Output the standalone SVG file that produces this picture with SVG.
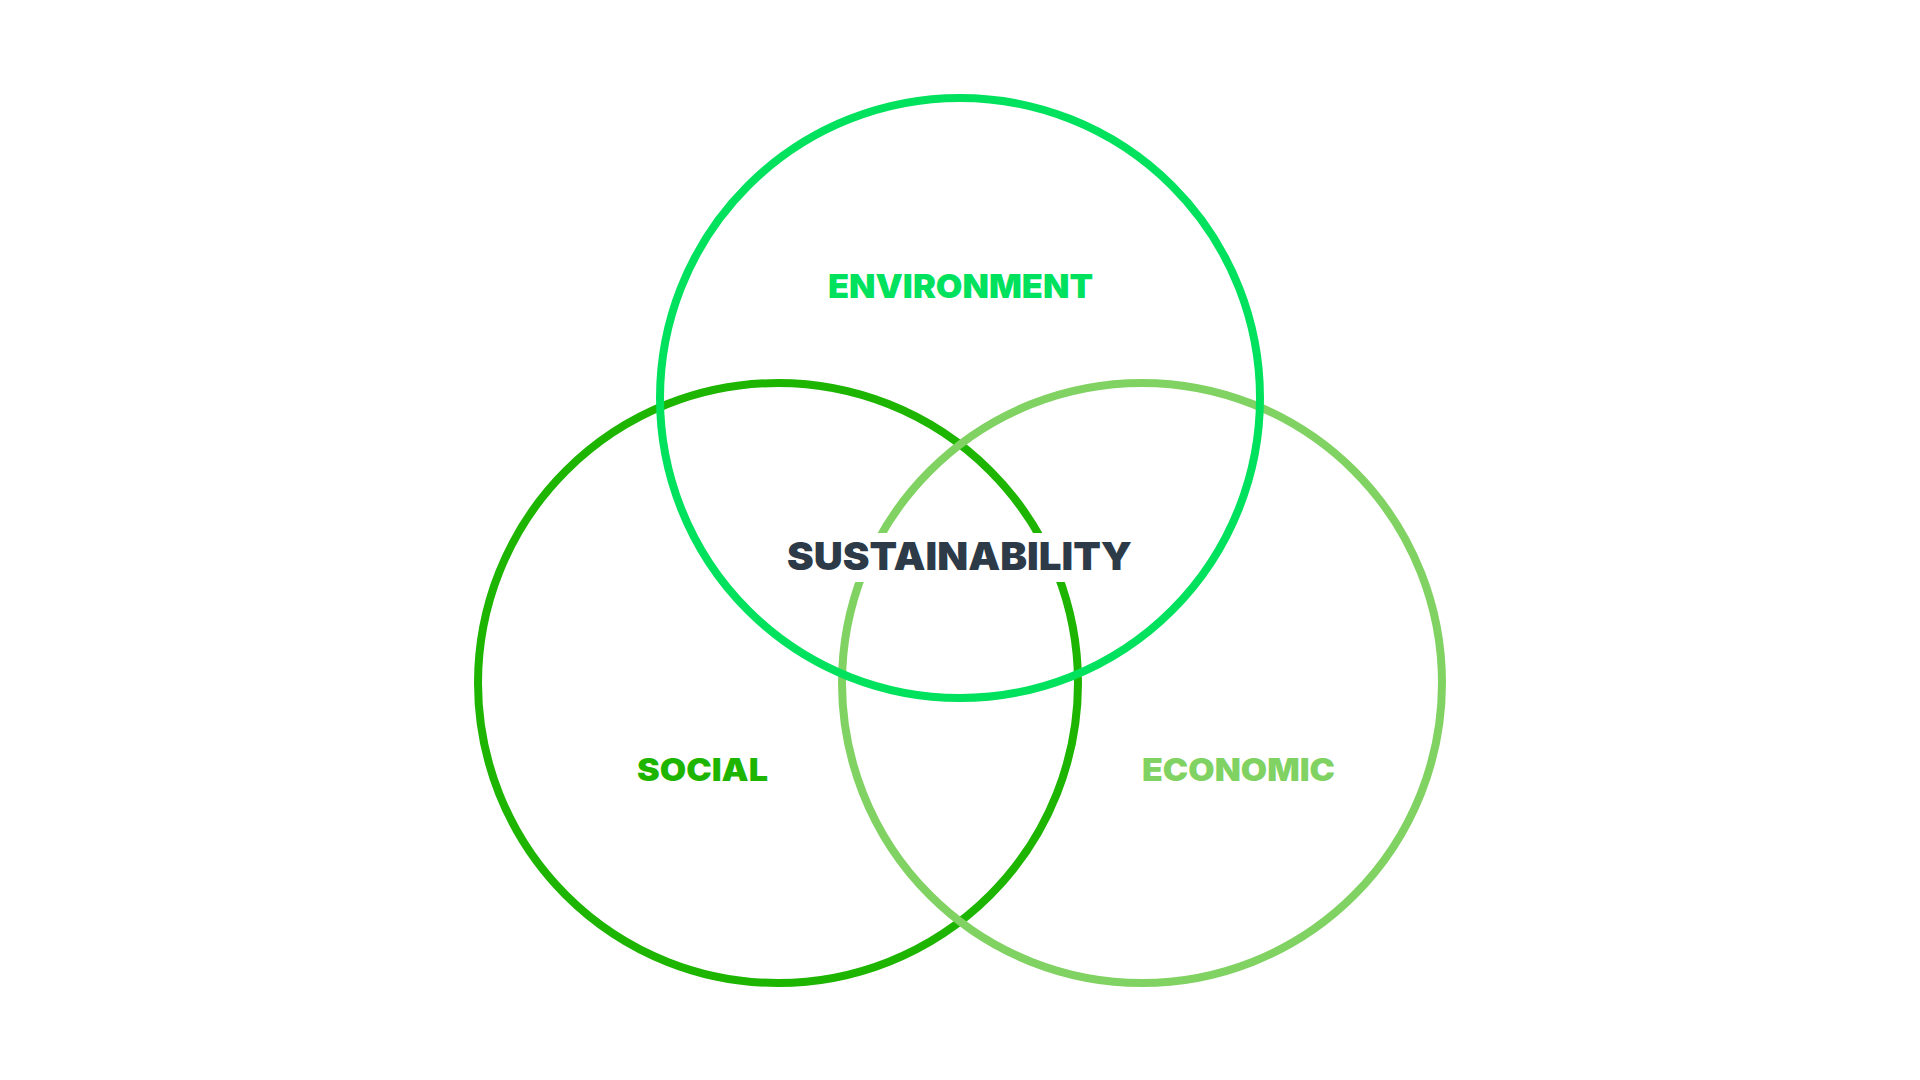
<svg xmlns="http://www.w3.org/2000/svg" width="1920" height="1080" viewBox="0 0 1920 1080">
<style>
.ring{fill:none;stroke-width:8}
.lbl{font-family:Inter,"Liberation Sans",sans-serif;font-weight:900;text-anchor:middle}
</style>
<rect width="1920" height="1080" fill="#ffffff"/>
<g id="social">
<circle class="ring" cx="778" cy="683" r="300" stroke="#1db500"/>
<text class="lbl" x="702.5" y="781" font-size="31" fill="#1db500" textLength="131" lengthAdjust="spacingAndGlyphs">SOCIAL</text>
</g>
<g id="economic">
<circle class="ring" cx="1142" cy="683" r="300" stroke="#80d262"/>
<text class="lbl" x="1238.5" y="781" font-size="31" fill="#80d262" textLength="193" lengthAdjust="spacingAndGlyphs">ECONOMIC</text>
</g>
<g id="environment">
<circle class="ring" cx="960" cy="398" r="300" stroke="#00e25e"/>
<text class="lbl" x="960.5" y="298" font-size="33" fill="#00e25e" textLength="265" lengthAdjust="spacingAndGlyphs">ENVIRONMENT</text>
</g>
<g id="sustainability">
<rect x="775" y="533" width="370" height="49" fill="#ffffff"/>
<text class="lbl" x="959.5" y="570" font-size="39" fill="#2d3a48" textLength="345" lengthAdjust="spacingAndGlyphs">SUSTAINABILITY</text>
</g>
</svg>
